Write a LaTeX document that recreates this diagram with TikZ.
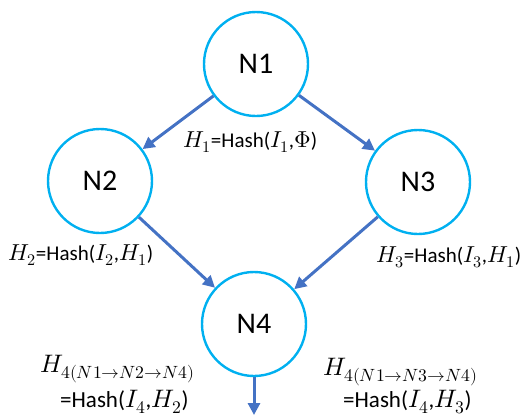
\documentclass[tikz,border=0pt]{standalone}
\usepackage{fontspec}
\usepackage{unicode-math}
\setmainfont{Carlito}
\setmathfont{Latin Modern Math}[Scale=1.1]
\usetikzlibrary{arrows.meta}
\definecolor{ringcol}{HTML}{00B0F0}
\definecolor{linkcol}{HTML}{4472C4}
\begin{document}
\begin{tikzpicture}[x=1pt,y=-1pt,
  vertex/.style={circle,draw=ringcol,line width=2.4pt,minimum size=104pt,inner sep=0pt,
    font=\fontsize{30}{34}\selectfont},
  link/.style={draw=linkcol,line width=3pt,-{Triangle[length=12pt,width=12pt]}},
  hashlabel/.style={inner sep=0pt,anchor=base west,font=\fontsize{21}{25}\selectfont},
  pathlabel/.style={hashlabel,font=\fontsize{23}{27}\selectfont}]
\useasboundingbox (0,0) rectangle (523,416);
% the four nodes of the graph
\node[vertex] (n1) at (256,64) {N1};
\node[vertex] (n2) at (100,181) {N2};
\node[vertex] (n3) at (418,182) {N3};
\node[vertex] (n4) at (254,324) {N4};
\coordinate (out) at (254,415);
% links
\draw[link] (n1) -- (n2);
\draw[link] (n1) -- (n3);
\draw[link] (n2) -- (n4);
\draw[link] (n3) -- (n4);
\draw[link] (n4.south) -- (out);
% hash values
\node[hashlabel] (h1) at (183,147) {$H_1$=Hash($I_1$,$\Phi$)};
\node[hashlabel] (h2) at (8,260) {$H_2$=Hash($I_2$,$H_1$)};
\node[hashlabel] (h3) at (376,262) {$H_3$=Hash($I_3$,$H_1$)};
\node[pathlabel] (h4a) at (40,372) {$H_{4(N1\rightarrow N2\rightarrow N4)}$};
\node[pathlabel] (h4b) at (60,407) {=Hash($I_4$,$H_2$)};
\node[pathlabel] (h4c) at (323,375) {$H_{4(N1\rightarrow N3\rightarrow N4)}$};
\node[pathlabel] (h4d) at (343,407) {=Hash($I_4$,$H_3$)};
\end{tikzpicture}
\end{document}
